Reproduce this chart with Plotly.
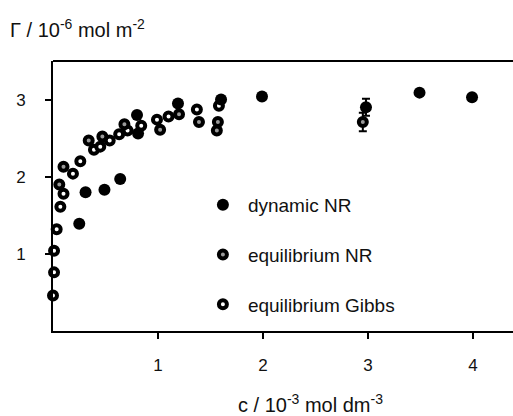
import plotly.graph_objects as go

# Surface excess vs concentration
dyn_c = [0.25, 0.31, 0.49, 0.64, 0.80, 0.81, 1.19, 1.60, 1.99, 2.98, 3.49, 3.99]
dyn_g = [1.39, 1.80, 1.83, 1.97, 2.80, 2.56, 2.95, 3.00, 3.04, 2.90, 3.09, 3.03]
dyn_err = [0, 0, 0, 0, 0, 0, 0, 0, 0, 0.11, 0, 0]

nr_c = [0.06, 0.10, 0.34, 0.47, 0.68, 1.02, 1.20, 1.39, 1.57, 1.56, 2.95]
nr_g = [1.90, 2.13, 2.47, 2.52, 2.68, 2.61, 2.81, 2.71, 2.71, 2.60, 2.71]
nr_err = [0, 0, 0, 0, 0, 0, 0, 0, 0, 0, 0.12]

gibbs_c = [0.00, 0.01, 0.01, 0.035, 0.07, 0.10, 0.19, 0.26, 0.39, 0.45, 0.54,
           0.63, 0.71, 0.84, 0.99, 1.10, 1.37, 1.58]
gibbs_g = [0.46, 0.76, 1.04, 1.32, 1.61, 1.78, 2.04, 2.20, 2.35, 2.39, 2.47,
           2.55, 2.60, 2.66, 2.74, 2.78, 2.87, 2.92]

x_ticks = [1, 2, 3, 4]
y_ticks = [1, 2, 3]

FONT = "Liberation Sans, Arial, sans-serif"
INK = "#111"

fig = go.Figure()

fig.add_trace(go.Scatter(
    x=gibbs_c, y=gibbs_g, mode="markers", name="equilibrium Gibbs",
    legendgroup="c", legendrank=3, cliponaxis=False,
    marker=dict(symbol="circle", size=8, color="white",
                line=dict(color="black", width=4)),
))
fig.add_trace(go.Scatter(
    x=nr_c, y=nr_g, mode="markers", name="equilibrium NR",
    legendgroup="b", legendrank=2, cliponaxis=False,
    error_y=dict(type="data", array=nr_err, visible=True, color="black",
                 thickness=2, width=4),
    marker=dict(symbol="circle", size=8, color="#9a9a9a",
                line=dict(color="black", width=4)),
))
fig.add_trace(go.Scatter(
    x=dyn_c, y=dyn_g, mode="markers", name="dynamic NR",
    legendgroup="a", legendrank=1, cliponaxis=False,
    error_y=dict(type="data", array=dyn_err, visible=True, color="black",
                 thickness=2, width=4),
    marker=dict(symbol="circle", size=12, color="black",
                line=dict(color="black", width=0)),
))

axis_common = dict(
    showgrid=False, zeroline=False, showline=True, linecolor="black",
    linewidth=2, ticks="outside", ticklen=6, tickwidth=2, tickcolor="black",
    tickfont=dict(family=FONT, size=17, color=INK),
)

fig.update_layout(
    width=513, height=416,
    margin=dict(l=53, r=0, t=61, b=85),
    paper_bgcolor="white", plot_bgcolor="white",
    showlegend=True,
    legend=dict(x=0.315, y=0.537, xanchor="left", yanchor="top",
                traceorder="grouped", tracegroupgap=22, itemwidth=40,
                font=dict(family=FONT, size=19, color=INK),
                bgcolor="rgba(0,0,0,0)", itemsizing="trace"),
    xaxis=dict(range=[0, 4.38], tickvals=x_ticks,
               ticktext=[str(v) for v in x_ticks], ticklabelstandoff=12,
               **axis_common),
    yaxis=dict(range=[0, 3.5], tickvals=y_ticks,
               ticktext=[str(v) for v in y_ticks], ticklabelstandoff=16,
               **axis_common),
    shapes=[dict(type="line", xref="paper", yref="paper", x0=0, x1=1,
                 y0=1, y1=1, line=dict(color="black", width=2))],
    annotations=[
        dict(text="Γ / 10<sup>-6</sup> mol m<sup>-2</sup>", xref="paper",
             yref="paper", x=(8 - 53) / 460, y=1 + 33 / 270, xanchor="left",
             yanchor="middle", showarrow=False,
             font=dict(family=FONT, size=20, color=INK)),
        dict(text="c / 10<sup>-3</sup> mol dm<sup>-3</sup>", xref="paper",
             yref="paper", x=(310 - 53) / 460, y=-72 / 270,
             xanchor="center", yanchor="middle", showarrow=False,
             font=dict(family=FONT, size=20, color=INK)),
    ],
)

fig.write_html("out.html")
